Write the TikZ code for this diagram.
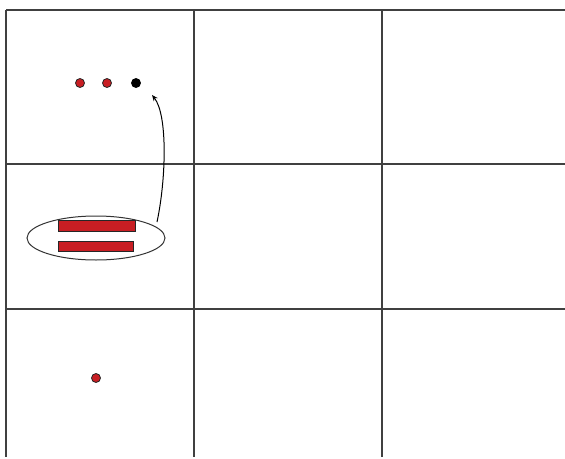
\documentclass[tikz,border=0pt]{standalone}
\usetikzlibrary{shapes.geometric,arrows.meta}
\definecolor{barred}{RGB}{200,30,35}
\begin{document}
\begin{tikzpicture}[x=1pt,y=-1pt,
  gridline/.style={draw=black!75,line width=1.3pt},
  reddot/.style={circle,draw=black!85,fill=barred,line width=0.8pt,minimum size=9pt,inner sep=0pt},
  blackdot/.style={circle,draw=black,fill=black,line width=0.8pt,minimum size=9pt,inner sep=0pt},
  redbar/.style={rectangle,draw=black!85,fill=barred,line width=0.8pt,inner sep=0pt},
  oval/.style={ellipse,draw=black!80,line width=1pt,minimum width=138pt,minimum height=44pt,inner sep=0pt},
  link/.style={draw=black,line width=1pt,-{Stealth[length=6pt,width=5pt]}}]
\useasboundingbox (0,0) rectangle (565,458);
% grid
\draw[gridline] (6,10) -- (565,10);
\draw[gridline] (6,164) -- (565,164);
\draw[gridline] (6,309) -- (565,309);
\draw[gridline] (6,10) -- (6,457);
\draw[gridline] (194,10) -- (194,457);
\draw[gridline] (382,10) -- (382,457);
% dots
\node[reddot] (d1) at (80,83) {};
\node[reddot] (d2) at (107,83) {};
\node[blackdot] (d3) at (136,83) {};
\node[reddot] (d4) at (96,378) {};
% ellipse with bars
\node[oval] (ell) at (96,238) {};
\node[redbar,minimum width=77pt,minimum height=11pt] (b1) at (96.5,225.5) {};
\node[redbar,minimum width=75pt,minimum height=10pt] (b2) at (95.5,246) {};
% arrow
\coordinate (start) at (157,222);
\coordinate (tip) at (152,95);
\draw[link] (start) .. controls (166,180) and (168,115) .. (tip);
\end{tikzpicture}
\end{document}
